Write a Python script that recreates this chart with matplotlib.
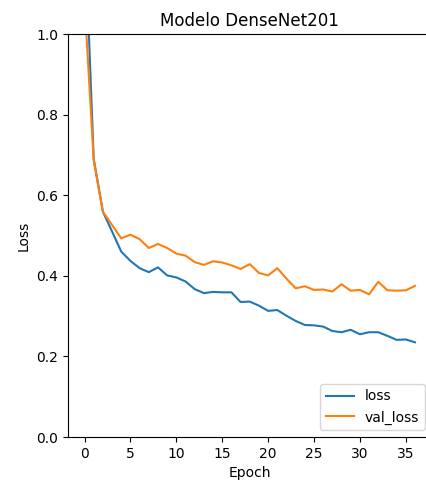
import matplotlib
matplotlib.use("Agg")
import matplotlib.pyplot as plt

epochs = list(range(37))
loss = [1.28, 0.69, 0.559, 0.51, 0.46, 0.437, 0.419, 0.409, 0.421, 0.401,
        0.396, 0.386, 0.367, 0.357, 0.360, 0.359, 0.359, 0.335, 0.336, 0.326,
        0.313, 0.315, 0.301, 0.288, 0.278, 0.277, 0.274, 0.263, 0.260, 0.266,
        0.255, 0.260, 0.260, 0.251, 0.241, 0.242, 0.235]
val_loss = [1.08, 0.687, 0.559, 0.526, 0.493, 0.502, 0.491, 0.469, 0.479, 0.469,
            0.455, 0.450, 0.434, 0.427, 0.436, 0.433, 0.426, 0.417, 0.429, 0.407,
            0.401, 0.419, 0.393, 0.369, 0.374, 0.365, 0.366, 0.361, 0.379, 0.363,
            0.365, 0.354, 0.385, 0.364, 0.363, 0.364, 0.375]

fig = plt.figure(figsize=(4.26, 4.86), dpi=100)
ax = fig.add_axes([68/426, 49/486, (431.5-68)/426, (437-34)/486])
ax.plot(epochs, loss, label="loss")
ax.plot(epochs, val_loss, label="val_loss")
ax.set_ylim(0, 1.0)
ax.set_title("Modelo DenseNet201")
ax.set_xlabel("Epoch")
ax.set_ylabel("Loss")
ax.legend(loc="lower right")
fig.savefig("out.png", dpi=100)
